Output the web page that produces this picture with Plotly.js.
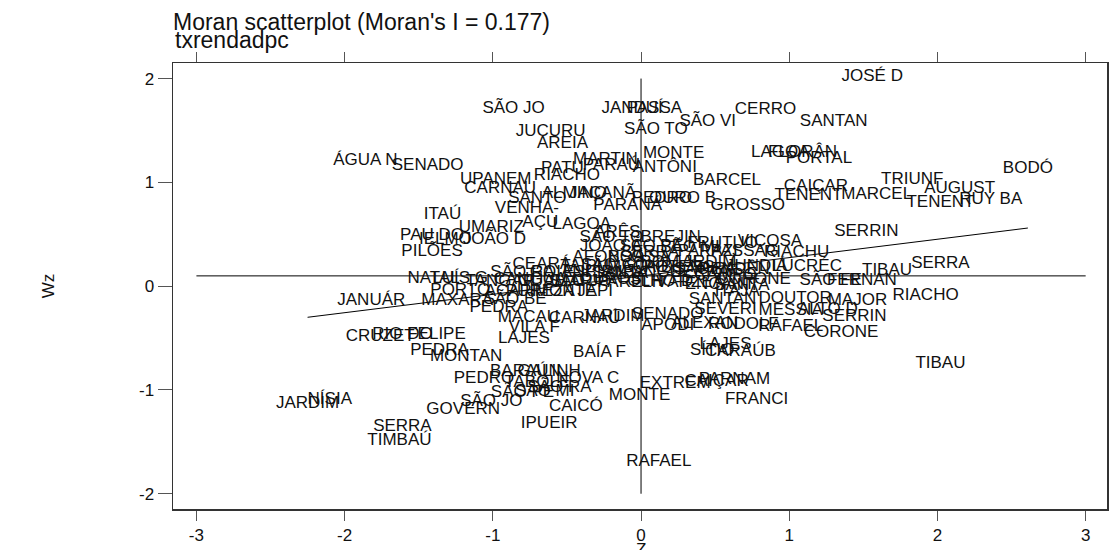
<!DOCTYPE html>
<html>
<head>
<meta charset="utf-8">
<script src="https://cdn.plot.ly/plotly-3.0.1.min.js"></script>
<style>html,body{margin:0;padding:0;background:#fff;}#chart{width:1109px;height:550px;}</style>
</head>
<body>
<div id="chart"></div>
<script>
// Municipality labels (truncated), standardized value z and spatial lag Wz
const names = [
 "JOSÉ D","SÃO JO","JANDUÍ","PASSA","SÃO TO","SÃO VI","CERRO","SANTAN","JUCURU","AREIA",
 "ÁGUA N","SENADO","MARTIN","PATU","PARAÚ","MONTE","ANTÔNI","RIACHO","UPANEM","CARNAU",
 "LAGOA","FLORÂN","PORTAL","BARCEL","CAIÇAR","TENENT","MARCEL","GROSSO","TRIUNF","AUGUST",
 "TENENT","RUY BA","BODÓ","SANTO","ALMINO","JAÇANÃ","PARANÁ","PEDRO","OURO B","ITAÚ",
 "VENHA-","UMARIZ","AÇU","LAGOA","PAU DO","IELMO","JOÃO D","PILÕES","SERRIN","ARÊS",
 "SÃO TO","BREJIN","JOÃO C","SÃO PE","SÃO MI","FRUTUO","VIÇOSA","SERRA","PARAZI","PASSAG",
 "RIACHU","AFONSO","BOA SA","BOM JE","JARDIM","JUNDIÁ","LUCRÉC","CEARÁ-","TAIPU","SÃO GO",
 "MACAÍB","POTENG","SÃO PA","PENDÊN","SÃO RA","GOIANI","ESPÍRI","SANTA","IPANGU","SERRA",
 "CAMPO","NATAL","LUÍS G","TANGAR","CANGUA","GUAMAR","SÃO JO","TOUROS","PARELH","OLHO-D",
 "VÁRZEA","ENCANT","SANTA","CORONE","SÃO FE","FERNAN","TIBAU","SERRA","PORTO","ACARI",
 "PUREZA","MONTE","JAPI","ITAJÁ","JANUÁR","MAXARA","SÃO BE","SANTAN","DOUTOR","MAJOR",
 "RIACHO","PEDRA","MESSIA","ALTO D","SERRIN","SEVERI","SENADO","MACAU","CARNAÚ","JARDIM",
 "APODI","ALEXAN","RODOLF","RAFAEL","VILA F","CORONE","CRUZET","RIO DO","FELIPE","LAJES",
 "LAJES","SÍTIO","CARAÚB","PEDRA","BAÍA F","MONTAN","TIBAU","BARAÚN","GALINH","PEDRO",
 "TABOLE","NOVA C","EXTREM","CAIÇAR","PARNAM","SÃO PE","SÃO MI","SÃO RA","MONTE","FRANCI",
 "SÃO JO","GOVERN","CAICÓ","NÍSIA","JARDIM","IPUEIR","SERRA","TIMBAÚ","RAFAEL"
];
const zVals = [
 1.56,-0.86,-0.06,0.09,0.10,0.45,0.84,1.30,-0.61,-0.53,
 -1.86,-1.44,-0.24,-0.53,-0.20,0.22,0.16,-0.50,-0.98,-0.95,
 0.94,1.09,1.20,0.58,1.18,1.13,1.59,0.72,1.83,2.15,
 2.02,2.36,2.61,-0.70,-0.45,-0.26,-0.09,0.14,0.28,-1.34,
 -0.77,-1.01,-0.68,-0.40,-1.41,-1.32,-0.99,-1.41,1.52,-0.16,
 -0.20,0.20,-0.20,0.07,0.33,0.55,0.87,0.06,0.45,0.70,
 1.05,-0.22,-0.01,0.21,0.43,0.78,1.12,-0.65,-0.38,-0.18,
 -0.01,0.26,0.43,0.63,-0.80,-0.55,-0.34,-0.14,0.06,0.40,
 0.57,-1.40,-1.22,-0.95,-0.75,-0.58,-0.41,-0.24,-0.07,0.13,
 0.33,0.53,0.68,0.76,1.28,1.49,1.66,2.02,-1.22,-0.88,
 -0.68,-0.51,-0.31,0.65,-1.82,-1.24,-0.85,0.55,1.04,1.46,
 1.92,-0.96,1.01,1.26,1.44,0.57,0.18,-0.76,-0.38,-0.19,
 0.18,0.43,0.69,1.01,-0.72,1.35,-1.76,-1.61,-1.38,-0.79,
 0.57,0.48,0.67,-1.36,-0.28,-1.18,2.02,-0.78,-0.62,-1.06,
 -0.70,-0.36,0.23,0.51,0.63,-0.80,-0.65,-0.55,-0.01,0.78,
 -1.01,-1.20,-0.44,-2.10,-2.25,-0.62,-1.61,-1.63,0.12
];
const wzVals = [
 2.02,1.71,1.71,1.71,1.51,1.58,1.70,1.58,1.49,1.37,
 1.21,1.16,1.22,1.13,1.16,1.28,1.14,1.06,1.03,0.94,
 1.29,1.29,1.23,1.02,0.96,0.87,0.88,0.77,1.03,0.94,
 0.80,0.83,1.13,0.84,0.89,0.89,0.77,0.84,0.84,0.69,
 0.75,0.56,0.61,0.59,0.49,0.45,0.45,0.33,0.52,0.51,
 0.47,0.47,0.38,0.38,0.37,0.41,0.43,0.32,0.33,0.33,
 0.32,0.27,0.27,0.23,0.23,0.19,0.19,0.21,0.19,0.20,
 0.18,0.18,0.16,0.16,0.13,0.13,0.13,0.12,0.13,0.13,
 0.10,0.07,0.07,0.04,0.06,0.04,0.04,0.06,0.03,0.04,
 0.03,0.01,0.00,0.06,0.05,0.05,0.15,0.22,-0.04,-0.05,
 -0.05,-0.05,-0.05,-0.05,-0.14,-0.14,-0.13,-0.13,-0.12,-0.14,
 -0.09,-0.21,-0.24,-0.23,-0.29,-0.23,-0.28,-0.30,-0.31,-0.29,
 -0.38,-0.36,-0.37,-0.39,-0.40,-0.45,-0.49,-0.47,-0.47,-0.51,
 -0.56,-0.62,-0.63,-0.62,-0.64,-0.68,-0.75,-0.82,-0.82,-0.89,
 -0.93,-0.89,-0.94,-0.92,-0.90,-1.03,-1.02,-0.98,-1.06,-1.09,
 -1.11,-1.19,-1.16,-1.09,-1.13,-1.33,-1.35,-1.49,-1.69
];
// Regression (Moran's I slope) line end points
const regZ = [-2.25, 2.61];
const regWz = [-0.30, 0.56];
// Reference lines: mean of Wz and zero of z
const hRefZ = [-3, 3];
const hRefWz = [0.099, 0.099];
const vRefZ = [0, 0];
const vRefWz = [-2, 2];
const xTicks = [-3,-2,-1,0,1,2,3];
const yTicks = [-2,-1,0,1,2];

const lineStyle = {color:'#000', width:1};
const font = 'Liberation Sans, Arial, sans-serif';
const traces = [
  {x:hRefZ, y:hRefWz, mode:'lines', line:lineStyle, hoverinfo:'skip', showlegend:false},
  {x:vRefZ, y:vRefWz, mode:'lines', line:lineStyle, hoverinfo:'skip', showlegend:false},
  {x:regZ, y:regWz, mode:'lines', line:lineStyle, hoverinfo:'skip', showlegend:false},
  {x:zVals, y:wzVals, text:names, mode:'text', textposition:'middle center',
   textfont:{family:font, size:17, color:'#111'},
   showlegend:false, cliponaxis:false}
];
const layout = {
  width:1109, height:550,
  margin:{l:173, r:2, t:63, b:41},
  paper_bgcolor:'#fff', plot_bgcolor:'#fff',
  showlegend:false,
  font:{family:font, color:'#111'},
  title:{text:"Moran scatterplot (Moran's I = 0.177)", font:{family:font, size:23, color:'#111'},
         xref:'paper', x:0, xanchor:'left', yref:'container', y:1-22/550, yanchor:'middle'},
  annotations:[
    {text:'txrendadpc', xref:'paper', x:0, xanchor:'left', yref:'paper', y:1+(63-40)/446,
     yanchor:'middle', showarrow:false, font:{family:font, size:23, color:'#111'}},
    {text:'Z', xref:'paper', x:(641-173)/934, xanchor:'center', yref:'paper', y:(509-549)/446,
     yanchor:'middle', showarrow:false, font:{family:font, size:17, color:'#111'}}
  ],
  xaxis:{range:[-3.158,3.144], tickvals:xTicks, ticktext:xTicks.map(String), ticks:'outside', ticklen:10,
         tickcolor:'#555', tickwidth:1, showline:true, linecolor:'#333', linewidth:1.5, mirror:'ticks',
         showgrid:false, zeroline:false, tickfont:{family:font, size:17, color:'#111'}},
  yaxis:{range:[-2.147,2.15], tickvals:yTicks, ticktext:yTicks.map(String), ticks:'outside', ticklen:14,
         tickcolor:'#555', tickwidth:1, showline:true, linecolor:'#333', linewidth:1.5, mirror:true,
         showgrid:false, zeroline:false, tickfont:{family:font, size:17, color:'#111'},
         title:{text:'Wz', font:{family:font, size:17, color:'#111'}, standoff:80}}
};
Plotly.newPlot('chart', traces, layout, {displayModeBar:false, staticPlot:true});
</script>
</body>
</html>
